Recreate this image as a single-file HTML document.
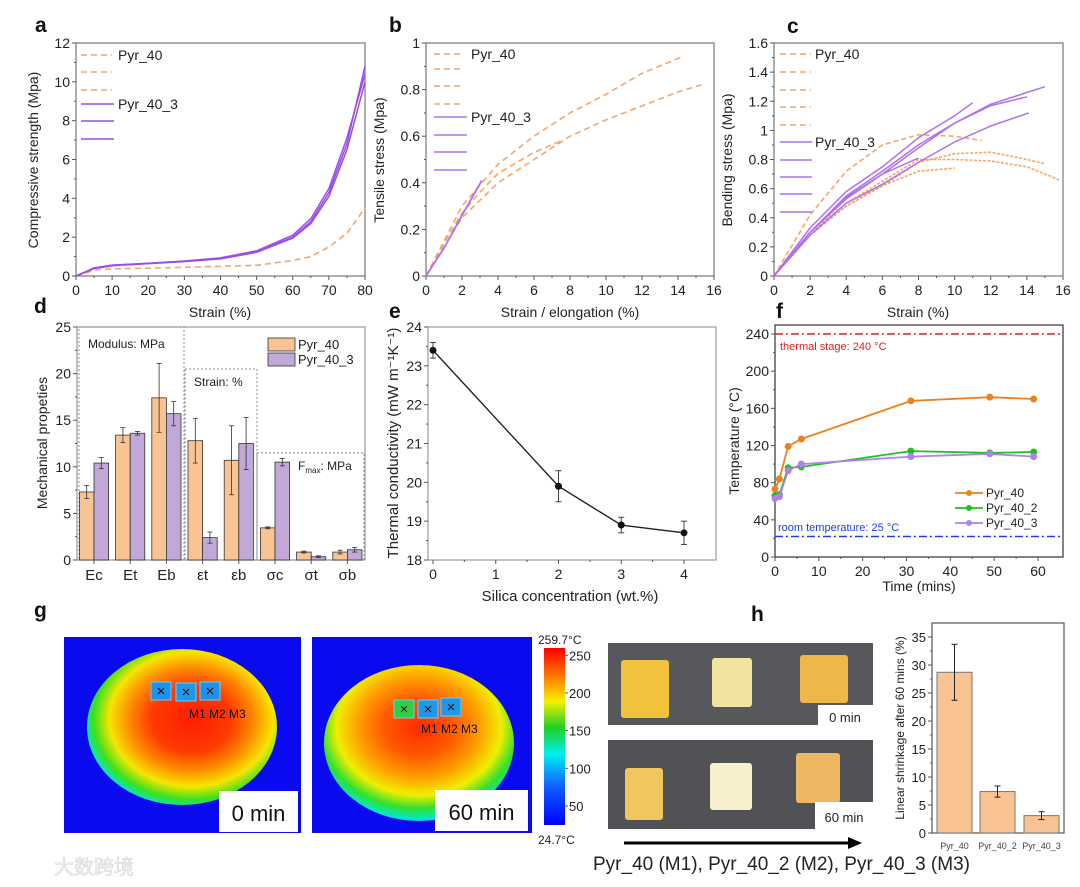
<!DOCTYPE html>
<html><head><meta charset="utf-8">
<style>
html,body{margin:0;padding:0;background:#fff;}
svg{display:block;font-family:"Liberation Sans",Arial,sans-serif;}
</style></head>
<body>
<svg id="fig" width="1080" height="887" viewBox="0 0 1080 887" xmlns="http://www.w3.org/2000/svg">
<defs>
  <radialGradient id="heat1" cx="0.55" cy="0.45" r="0.6">
    <stop offset="0" stop-color="#ff1e00"/><stop offset="0.35" stop-color="#ff3a00"/>
    <stop offset="0.55" stop-color="#ff8c00"/><stop offset="0.72" stop-color="#f5e600"/>
    <stop offset="0.86" stop-color="#3ce01e"/><stop offset="0.96" stop-color="#00e8c8"/><stop offset="1" stop-color="#10a0ff"/>
  </radialGradient>
  <radialGradient id="heat2" cx="0.5" cy="0.4" r="0.62">
    <stop offset="0" stop-color="#ff2a00"/><stop offset="0.3" stop-color="#ff5a00"/>
    <stop offset="0.52" stop-color="#ffa000"/><stop offset="0.7" stop-color="#f0ee00"/>
    <stop offset="0.84" stop-color="#30e030"/><stop offset="0.95" stop-color="#00e8d0"/><stop offset="1" stop-color="#10a8ff"/>
  </radialGradient>
  <linearGradient id="cbar" x1="0" y1="0" x2="0" y2="1">
    <stop offset="0" stop-color="#ff0000"/><stop offset="0.15" stop-color="#ff7000"/>
    <stop offset="0.3" stop-color="#f8f000"/><stop offset="0.45" stop-color="#20d020"/>
    <stop offset="0.6" stop-color="#00f0f0"/><stop offset="0.78" stop-color="#1060ff"/><stop offset="1" stop-color="#0000ff"/>
  </linearGradient>
</defs>
<g id="root"></g>
</svg>
<script>
// ---------- DATA ----------
// panel a
const aStrain = [0,5,10,20,30,40,50,60,65,70,75,80];
const aPyr40 = [0,0.3,0.37,0.4,0.45,0.5,0.55,0.8,1.0,1.5,2.2,3.5];
const aPyr40_3a = [0,0.4,0.55,0.65,0.75,0.9,1.25,2.0,2.8,4.3,6.8,10.8];
const aPyr40_3b = [0,0.42,0.56,0.66,0.77,0.93,1.3,2.1,2.95,4.5,7.1,10.4];
const aPyr40_3c = [0,0.38,0.53,0.64,0.74,0.88,1.22,1.95,2.7,4.1,6.5,10.0];
// panel b
const bX1 = [0,2,4,6,8,10,12,14.2];
const bY1 = [0,0.3,0.48,0.6,0.7,0.78,0.87,0.94];
const bX2 = [0,2,4,6,8,10,12,14,15.3];
const bY2 = [0,0.25,0.4,0.5,0.6,0.67,0.73,0.79,0.82];
const bX3 = [0,1,2,3,4,6,7.5];
const bY3 = [0,0.14,0.27,0.36,0.44,0.53,0.58];
const bXp = [0,1,2,3.1];
const bYp = [0,0.12,0.26,0.41];
// panel c
const cO1x = [0,2,4,6,8,10,11.5], cO1y = [0,0.42,0.72,0.9,0.97,0.96,0.93];
const cO2x = [0,2,4,6,8,10,12,14,15], cO2y = [0,0.3,0.48,0.62,0.78,0.84,0.85,0.8,0.77];
const cO3x = [0,2,4,6,8,10,12,14,15.8], cO3y = [0,0.3,0.5,0.65,0.8,0.8,0.79,0.75,0.66];
const cO4x = [0,2,4,6,8,10], cO4y = [0,0.28,0.48,0.62,0.72,0.74];
const cP1x = [0,2,4,6,8,10,11], cP1y = [0,0.33,0.58,0.75,0.95,1.1,1.19];
const cP2x = [0,2,4,6,8,10,12,14], cP2y = [0,0.3,0.55,0.72,0.9,1.05,1.17,1.23];
const cP3x = [0,2,4,6,8,10,12,15], cP3y = [0,0.3,0.53,0.7,0.88,1.05,1.18,1.3];
const cP4x = [0,2,4,6,8,10,12,14.1], cP4y = [0,0.28,0.5,0.63,0.78,0.92,1.03,1.12];
const cP5x = [0,2,4,6,8], cP5y = [0,0.3,0.54,0.7,0.81];
// panel d
const dCats = ["Ec","Et","Eb","\u03b5t","\u03b5b","\u03c3c","\u03c3t","\u03c3b"];
const dPyr40 = [7.3,13.4,17.4,12.8,10.7,3.45,0.85,0.85];
const dPyr40Err = [0.7,0.8,3.7,2.4,3.7,0.1,0.1,0.2];
const dPyr40_3 = [10.4,13.6,15.7,2.4,12.5,10.5,0.35,1.1];
const dPyr40_3Err = [0.6,0.2,1.3,0.6,2.8,0.4,0.1,0.25];
const dYTicks = [0,5,10,15,20,25];
// panel e
const eSilica = [0,2,3,4];
const eK = [23.4,19.9,18.9,18.7];
const eErr = [0.2,0.4,0.2,0.3];
const eXTicks = [0,1,2,3,4];
const eYTicks = [18,19,20,21,22,23,24];
// panel f
const fTime = [0,1,3,6,31,49,59];
const fPyr40 = [73,84,119,127,168,172,170];
const fPyr40_2 = [66,67,96,97,114,112,113];
const fPyr40_3 = [63,65,93,100,108,111,108];
const fStage = 240, fRoom = 22;
const fXTicks = [0,10,20,30,40,50,60];
const fYTicks = [0,40,80,120,160,200,240];
// panel h
const hCats = ["Pyr_40","Pyr_40_2","Pyr_40_3"];
const hShrink = [28.7,7.4,3.1];
const hErr = [5,1,0.7];
const hYTicks = [0,5,10,15,20,25,30,35];
// colour bar
const cbTicks = [50,100,150,200,250];

// ---------- HELPERS ----------
const NS = "http://www.w3.org/2000/svg";
const root = document.getElementById("root");
function mk(tag, attrs, parent, name, inter) {
  const el = document.createElementNS(NS, tag);
  for (const k in attrs) el.setAttribute(k, attrs[k]);
  
  
  (parent || root).appendChild(el);
  return el;
}
function txt(x, y, s, attrs, parent, name) {
  const a = Object.assign({x: x, y: y, "font-size": 14, fill: "#222"}, attrs || {});
  const t = mk("text", a, parent, name, false);
  t.textContent = s;
  return t;
}
function lin(d0, d1, r0, r1) { return v => r0 + (v - d0) / (d1 - d0) * (r1 - r0); }
function path(xs, ys, sx, sy) {
  return xs.map((v, i) => (i ? "L" : "M") + sx(v).toFixed(1) + "," + sy(ys[i]).toFixed(1)).join("");
}
function axes(g, box, sx, sy, xt, yt, xfmt, yfmt, opts) {
  opts = opts || {};
  mk("rect", {x: box.L, y: box.T, width: box.R - box.L, height: box.B - box.T, fill: "none", stroke: opts.frame || "#777", "stroke-width": 1.2}, g, "plot-frame", false);
  if (xt) xt.forEach((v, i) => {
    const x = sx(v);
    mk("line", {x1: x, x2: x, y1: box.B, y2: box.B + 4, stroke: "#555"}, g, "x-tick", false);
    txt(x, box.B + 19, xfmt ? xfmt(v) : v, {"text-anchor": "middle", "font-size": opts.fs || 14}, g, "x-tick-label");
    if (opts.xminor && i < xt.length - 1) {
      const xm = sx((v + xt[i + 1]) / 2);
      mk("line", {x1: xm, x2: xm, y1: box.B, y2: box.B + 2, stroke: "#555"}, g, "x-minor-tick", false);
    }
  });
  yt.forEach((v, i) => {
    const y = sy(v);
    mk("line", {x1: box.L - 4, x2: box.L, y1: y, y2: y, stroke: "#555"}, g, "y-tick", false);
    txt(box.L - 6, y + 5, yfmt ? yfmt(v) : v, {"text-anchor": "end", "font-size": opts.fs || 14}, g, "y-tick-label");
    if (i < yt.length - 1) {
      const ym = sy((v + yt[i + 1]) / 2);
      mk("line", {x1: box.L - 2, x2: box.L, y1: ym, y2: ym, stroke: "#555"}, g, "y-minor-tick", false);
    }
  });
}
function ytitle(g, x, y, s, fs) {
  txt(0, 0, s, {"text-anchor": "middle", "font-size": fs || 14, transform: "translate(" + x + "," + y + ") rotate(-90)"}, g, "y-axis-title");
}
function plabel(x, y, s) { txt(x, y, s, {"font-size": 21, "font-weight": "bold", fill: "#111"}, root, "panel-label-" + s); }
const OR = "#f4a66a", PU = "#9b4de8", PU2 = "#b070f0";
const num = v => (Math.round(v * 10) / 10).toString();

// ---------- PANEL A ----------
(function () {
  const g = mk("g", {}, root, "panel-a-compressive", false);
  const box = {L: 76, R: 365, T: 43, B: 276};
  const sx = lin(0, 80, box.L, box.R), sy = lin(0, 12, box.B, box.T);
  axes(g, box, sx, sy, [0,10,20,30,40,50,60,70,80], [0,2,4,6,8,10,12], null, null, {xminor: true});
  mk("path", {d: path(aStrain, aPyr40, sx, sy), fill: "none", stroke: OR, "stroke-width": 1.6, "stroke-dasharray": "6 4"}, g, "pyr40-curve", false);
  mk("path", {d: path(aStrain, aPyr40_3a, sx, sy), fill: "none", stroke: PU, "stroke-width": 1.5}, g, "pyr40-3-curve-1", false);
  mk("path", {d: path(aStrain, aPyr40_3b, sx, sy), fill: "none", stroke: PU, "stroke-width": 1.5}, g, "pyr40-3-curve-2", false);
  mk("path", {d: path(aStrain, aPyr40_3c, sx, sy), fill: "none", stroke: PU, "stroke-width": 1.5}, g, "pyr40-3-curve-3", false);
  [55, 72, 90].forEach(y => mk("line", {x1: 81, x2: 112, y1: y, y2: y, stroke: OR, "stroke-width": 1.5, "stroke-dasharray": "6 4"}, g, "legend-line-pyr40", false));
  [104, 121, 139].forEach(y => mk("line", {x1: 81, x2: 114, y1: y, y2: y, stroke: PU, "stroke-width": 1.5}, g, "legend-line-pyr40-3", false));
  txt(118, 60, "Pyr_40", {}, g, "legend-entry-pyr40");
  txt(118, 109, "Pyr_40_3", {}, g, "legend-entry-pyr40-3");
  ytitle(g, 38, 160, "Compressive strength (Mpa)");
  txt(220, 317, "Strain (%)", {"text-anchor": "middle"}, g, "x-axis-title");
})();

// ---------- PANEL B ----------
(function () {
  const g = mk("g", {}, root, "panel-b-tensile", false);
  const box = {L: 426, R: 714, T: 43, B: 276};
  const sx = lin(0, 16, box.L, box.R), sy = lin(0, 1, box.B, box.T);
  axes(g, box, sx, sy, [0,2,4,6,8,10,12,14,16], [0,0.2,0.4,0.6,0.8,1], null, num, {xminor: true});
  mk("path", {d: path(bX1, bY1, sx, sy), fill: "none", stroke: OR, "stroke-width": 1.6, "stroke-dasharray": "6 4"}, g, "pyr40-curve-1", false);
  mk("path", {d: path(bX2, bY2, sx, sy), fill: "none", stroke: OR, "stroke-width": 1.6, "stroke-dasharray": "6 4"}, g, "pyr40-curve-2", false);
  mk("path", {d: path(bX3, bY3, sx, sy), fill: "none", stroke: OR, "stroke-width": 1.6, "stroke-dasharray": "6 4"}, g, "pyr40-curve-3", false);
  mk("path", {d: path(bXp, bYp, sx, sy), fill: "none", stroke: PU2, "stroke-width": 1.8}, g, "pyr40-3-curve", false);
  [54, 69, 86, 104].forEach(y => mk("line", {x1: 434, x2: 464, y1: y, y2: y, stroke: OR, "stroke-width": 1.5, "stroke-dasharray": "6 4"}, g, "legend-line-pyr40", false));
  [117, 135, 152, 170].forEach(y => mk("line", {x1: 434, x2: 467, y1: y, y2: y, stroke: PU2, "stroke-width": 1.5}, g, "legend-line-pyr40-3", false));
  txt(471, 59, "Pyr_40", {}, g, "legend-entry-pyr40");
  txt(471, 122, "Pyr_40_3", {}, g, "legend-entry-pyr40-3");
  ytitle(g, 384, 160, "Tensile stress (Mpa)");
  txt(570, 317, "Strain / elongation (%)", {"text-anchor": "middle"}, g, "x-axis-title");
})();

// ---------- PANEL C ----------
(function () {
  const g = mk("g", {}, root, "panel-c-bending", false);
  const box = {L: 774, R: 1063, T: 43, B: 276};
  const sx = lin(0, 16, box.L, box.R), sy = lin(0, 1.6, box.B, box.T);
  axes(g, box, sx, sy, [0,2,4,6,8,10,12,14,16], [0,0.2,0.4,0.6,0.8,1,1.2,1.4,1.6], null, num, {xminor: true});
  [[cO1x,cO1y],[cO2x,cO2y],[cO3x,cO3y],[cO4x,cO4y]].forEach((s, i) =>
    mk("path", {d: path(s[0], s[1], sx, sy), fill: "none", stroke: OR, "stroke-width": 1.6, "stroke-dasharray": i ? "3 1.5" : "5 3"}, g, "pyr40-curve-" + (i + 1), false));
  [[cP1x,cP1y],[cP2x,cP2y],[cP3x,cP3y],[cP4x,cP4y],[cP5x,cP5y]].forEach((s, i) =>
    mk("path", {d: path(s[0], s[1], sx, sy), fill: "none", stroke: PU2, "stroke-width": 1.5}, g, "pyr40-3-curve-" + (i + 1), false));
  [54, 72, 90, 107, 125].forEach(y => mk("line", {x1: 780, x2: 811, y1: y, y2: y, stroke: OR, "stroke-width": 1.5, "stroke-dasharray": "6 4"}, g, "legend-line-pyr40", false));
  [142, 160, 177, 194, 212].forEach(y => mk("line", {x1: 780, x2: 812, y1: y, y2: y, stroke: PU2, "stroke-width": 1.5}, g, "legend-line-pyr40-3", false));
  txt(815, 59, "Pyr_40", {}, g, "legend-entry-pyr40");
  txt(815, 147, "Pyr_40_3", {}, g, "legend-entry-pyr40-3");
  ytitle(g, 732, 160, "Bending stress (Mpa)");
  txt(918, 317, "Strain (%)", {"text-anchor": "middle"}, g, "x-axis-title");
})();

// ---------- PANEL D ----------
(function () {
  const g = mk("g", {}, root, "panel-d-mechanical", false);
  const box = {L: 77, R: 365, T: 327, B: 560};
  const sy = lin(0, 25, box.B, box.T);
  const gx = i => 94 + i * 36.2;
  axes(g, box, null, sy, null, dYTicks, null, null, {frame: "#999"});
  mk("rect", {x: 79, y: sy(25), width: 105, height: box.B - sy(25), fill: "none", stroke: "#888", "stroke-dasharray": "2 2"}, g, "modulus-group-box", false);
  mk("rect", {x: 185, y: sy(20.5), width: 72, height: box.B - sy(20.5), fill: "none", stroke: "#888", "stroke-dasharray": "2 2"}, g, "strain-group-box", false);
  mk("rect", {x: 257, y: sy(11.5), width: 107, height: box.B - sy(11.5), fill: "none", stroke: "#888", "stroke-dasharray": "2 2"}, g, "fmax-group-box", false);
  txt(88, 348, "Modulus: MPa", {"font-size": 12}, g, "modulus-label");
  txt(194, 386, "Strain: %", {"font-size": 12}, g, "strain-label");
  const fl = txt(298, 470, "F", {"font-size": 12}, g, "fmax-label");
  const ts = document.createElementNS(NS, "tspan"); ts.setAttribute("font-size", 8); ts.setAttribute("dy", 3); ts.textContent = "max"; fl.appendChild(ts);
  const ts2 = document.createElementNS(NS, "tspan"); ts2.setAttribute("dy", -3); ts2.textContent = ": MPa"; fl.appendChild(ts2);
  dCats.forEach((c, i) => {
    const bw = 14.6;
    const x1 = gx(i) - bw, x2 = gx(i);
    mk("rect", {x: x1, y: sy(dPyr40[i]), width: bw, height: box.B - sy(dPyr40[i]), fill: "#f9c394", stroke: "#333", "stroke-width": 0.8}, g, "bar-pyr40-" + c, false);
    mk("rect", {x: x2, y: sy(dPyr40_3[i]), width: bw, height: box.B - sy(dPyr40_3[i]), fill: "#c0a8d8", stroke: "#333", "stroke-width": 0.8}, g, "bar-pyr40-3-" + c, false);
    [[x1 + bw / 2, dPyr40[i], dPyr40Err[i]], [x2 + bw / 2, dPyr40_3[i], dPyr40_3Err[i]]].forEach(e => {
      mk("line", {x1: e[0], x2: e[0], y1: sy(e[1] - e[2]), y2: sy(e[1] + e[2]), stroke: "#333", "stroke-width": 0.8}, g, "error-bar", false);
      mk("line", {x1: e[0] - 2.5, x2: e[0] + 2.5, y1: sy(e[1] + e[2]), y2: sy(e[1] + e[2]), stroke: "#333", "stroke-width": 0.8}, g, "error-cap", false);
      mk("line", {x1: e[0] - 2.5, x2: e[0] + 2.5, y1: sy(e[1] - e[2]), y2: sy(e[1] - e[2]), stroke: "#333", "stroke-width": 0.8}, g, "error-cap", false);
    });
    mk("line", {x1: gx(i), x2: gx(i), y1: box.B, y2: box.B + 4, stroke: "#555"}, g, "x-tick", false);
    txt(gx(i), box.B + 20, c, {"text-anchor": "middle", "font-size": 15}, g, "x-tick-label");
  });
  mk("rect", {x: 268, y: 338, width: 27, height: 13, fill: "#f9c394", stroke: "#333", "stroke-width": 0.8}, g, "legend-swatch-pyr40", false);
  mk("rect", {x: 268, y: 353, width: 27, height: 13, fill: "#c0a8d8", stroke: "#333", "stroke-width": 0.8}, g, "legend-swatch-pyr40-3", false);
  txt(298, 349, "Pyr_40", {"font-size": 13}, g, "legend-entry-pyr40");
  txt(298, 364, "Pyr_40_3", {"font-size": 13}, g, "legend-entry-pyr40-3");
  ytitle(g, 47, 443, "Mechanical propeties");
})();

// ---------- PANEL E ----------
(function () {
  const g = mk("g", {}, root, "panel-e-conductivity", false);
  const box = {L: 428, R: 716, T: 327, B: 560};
  const sx = lin(0, 4, 433, 684), sy = lin(18, 24, box.B, box.T);
  axes(g, box, sx, sy, eXTicks, eYTicks, null, null, {xminor: true, frame: "#999"});
  mk("path", {d: path(eSilica, eK, sx, sy), fill: "none", stroke: "#222", "stroke-width": 1.4}, g, "conductivity-line", false);
  eSilica.forEach((v, i) => {
    const x = sx(v);
    mk("line", {x1: x, x2: x, y1: sy(eK[i] - eErr[i]), y2: sy(eK[i] + eErr[i]), stroke: "#444"}, g, "error-bar", false);
    mk("line", {x1: x - 3, x2: x + 3, y1: sy(eK[i] + eErr[i]), y2: sy(eK[i] + eErr[i]), stroke: "#444"}, g, "error-cap", false);
    mk("line", {x1: x - 3, x2: x + 3, y1: sy(eK[i] - eErr[i]), y2: sy(eK[i] - eErr[i]), stroke: "#444"}, g, "error-cap", false);
    mk("circle", {cx: x, cy: sy(eK[i]), r: 3.5, fill: "#111"}, g, "data-point", false);
  });
  ytitle(g, 398, 443, "Thermal conductivity (mW m\u207b\u00b9K\u207b\u00b9)", 15);
  txt(570, 601, "Silica concentration (wt.%)", {"text-anchor": "middle", "font-size": 15}, g, "x-axis-title");
})();

// ---------- PANEL F ----------
(function () {
  const g = mk("g", {}, root, "panel-f-temperature", false);
  const box = {L: 775, R: 1063, T: 325, B: 557};
  const sx = lin(0, 60, 775, 1038), sy = lin(0, 240, 557, 334);
  axes(g, box, sx, sy, fXTicks, fYTicks, null, null, {xminor: true, frame: "#333"});
  mk("line", {x1: box.L, x2: box.R, y1: sy(fStage), y2: sy(fStage), stroke: "#e02020", "stroke-width": 1.5, "stroke-dasharray": "8 3 2 3"}, g, "thermal-stage-line", false);
  mk("line", {x1: box.L, x2: box.R, y1: sy(fRoom), y2: sy(fRoom), stroke: "#2040e0", "stroke-width": 1.5, "stroke-dasharray": "8 3 2 3"}, g, "room-temp-line", false);
  txt(780, 350, "thermal stage: 240 \u00b0C", {"font-size": 11, fill: "#e02020"}, g, "thermal-stage-label");
  txt(778, 531, "room temperature: 25 \u00b0C", {"font-size": 11, fill: "#2040e0"}, g, "room-temp-label");
  [[fPyr40, "#ee8020", "pyr40"], [fPyr40_2, "#20c020", "pyr40-2"], [fPyr40_3, "#b080f0", "pyr40-3"]].forEach(s => {
    mk("path", {d: path(fTime, s[0], sx, sy), fill: "none", stroke: s[1], "stroke-width": 1.8}, g, s[2] + "-line", false);
    fTime.forEach((t, i) => mk("circle", {cx: sx(t), cy: sy(s[0][i]), r: 3.5, fill: s[1]}, g, s[2] + "-point", false));
  });
  [["Pyr_40", "#ee8020", 493], ["Pyr_40_2", "#20c020", 508], ["Pyr_40_3", "#b080f0", 523]].forEach(l => {
    mk("line", {x1: 955, x2: 983, y1: l[2], y2: l[2], stroke: l[1], "stroke-width": 1.8}, g, "legend-line", false);
    mk("circle", {cx: 969, cy: l[2], r: 3, fill: l[1]}, g, "legend-marker", false);
    txt(986, l[2] + 4, l[0], {"font-size": 12}, g, "legend-entry-" + l[0].toLowerCase());
  });
  ytitle(g, 739, 441, "Temperature (\u00b0C)");
  txt(919, 591, "Time (mins)", {"text-anchor": "middle"}, g, "x-axis-title");
})();

// ---------- PANEL G (thermal images) ----------
(function () {
  const g = mk("g", {}, root, "panel-g-thermal", false);
  const imgs = [{x: 64, w: 237, cx: 182, cy: 727, fill: "url(#heat1)", sq: [[151, 682, "#2090e8"], [176, 683, "#2098e8"], [200, 682, "#2090e8"]], lab: [189, 718], box: [219, 791, 79, "0 min"]},
                {x: 312, w: 220, cx: 419, cy: 743, fill: "url(#heat2)", sq: [[394, 700, "#30d040"], [418, 700, "#2098e8"], [441, 698, "#2098e8"]], lab: [421, 733], box: [435, 790, 93, "60 min"]}];
  imgs.forEach((im, k) => {
    mk("rect", {x: im.x, y: 637, width: im.w, height: 196, fill: "#0a0af0"}, g, "thermal-image-bg", false);
    mk("ellipse", {cx: im.cx, cy: im.cy, rx: 95, ry: 78, fill: im.fill}, g, "thermal-sample-plate", false);
    im.sq.forEach((s, j) => {
      mk("rect", {x: s[0], y: s[1], width: 20, height: 18, fill: s[2], stroke: "#60d0ff", "stroke-width": 1}, g, "sample-m" + (j + 1), false);
      txt(s[0] + 10, s[1] + 14, "\u00d7", {"font-size": 15, "text-anchor": "middle", fill: "#111"}, g, "marker-x");
    });
    txt(im.lab[0], im.lab[1], "M1 M2 M3", {"font-size": 12, fill: "#111"}, g, "marker-labels");
    mk("rect", {x: im.box[0], y: im.box[1], width: im.box[2], height: 41, fill: "#fff"}, g, "time-label-box", false);
    txt(im.box[0] + im.box[2] / 2, im.box[1] + 30, im.box[3], {"font-size": 22, "text-anchor": "middle", fill: "#111"}, g, "time-label");
  });
  mk("rect", {x: 544, y: 648, width: 21, height: 177, fill: "url(#cbar)"}, g, "colour-bar", false);
  txt(538, 644, "259.7\u00b0C", {"font-size": 12}, g, "colour-bar-max");
  txt(538, 844, "24.7\u00b0C", {"font-size": 12}, g, "colour-bar-min");
  const cy = lin(24.7, 259.7, 825, 648);
  cbTicks.forEach(v => {
    mk("line", {x1: 565, x2: 568, y1: cy(v), y2: cy(v), stroke: "#555"}, g, "colour-bar-tick", false);
    txt(569, cy(v) + 5, v, {"font-size": 13}, g, "colour-bar-tick-label");
  });
})();

// ---------- PANEL H (photos + shrinkage) ----------
(function () {
  const g = mk("g", {}, root, "panel-h-shrinkage", false);
  mk("rect", {x: 608, y: 643, width: 265, height: 82, fill: "#57585c"}, g, "photo-0min", false);
  mk("rect", {x: 608, y: 740, width: 265, height: 89, fill: "#505256"}, g, "photo-60min", false);
  [[621, 660, 48, 58, "#f3c23c"], [712, 658, 40, 49, "#f2e4a0"], [800, 655, 48, 48, "#efb64a"],
   [625, 768, 38, 52, "#f0c65e"], [710, 763, 42, 47, "#f8f0cc"], [796, 753, 44, 50, "#eeb862"]].forEach((b, i) =>
    mk("rect", {x: b[0], y: b[1], width: b[2], height: b[3], rx: 3, fill: b[4]}, g, "sample-block-" + (i + 1), false));
  mk("rect", {x: 818, y: 705, width: 55, height: 21, fill: "#fff"}, g, "label-box-0min", false);
  txt(845, 722, "0 min", {"font-size": 13, "text-anchor": "middle"}, g, "label-0min");
  mk("rect", {x: 815, y: 802, width: 58, height: 27, fill: "#fff"}, g, "label-box-60min", false);
  txt(844, 822, "60 min", {"font-size": 13, "text-anchor": "middle"}, g, "label-60min");
  mk("line", {x1: 624, x2: 850, y1: 843, y2: 843, stroke: "#000", "stroke-width": 3}, g, "arrow-shaft", false);
  mk("polygon", {points: "848,837 862,843 848,849", fill: "#000"}, g, "arrow-head", false);
  txt(593, 870, "Pyr_40 (M1), Pyr_40_2 (M2), Pyr_40_3 (M3)", {"font-size": 19, fill: "#222"}, g, "sample-caption");
  const box = {L: 932, R: 1064, T: 623, B: 833};
  const sy = lin(0, 35, 833, 637);
  axes(g, box, null, sy, null, hYTicks, null, null, {frame: "#555", fs: 13});
  const bx = [937, 980, 1024];
  hCats.forEach((c, i) => {
    mk("rect", {x: bx[i], y: sy(hShrink[i]), width: 35, height: box.B - sy(hShrink[i]), fill: "#f9c394", stroke: "#777", "stroke-width": 1}, g, "bar-" + c.toLowerCase(), false);
    const x = bx[i] + 17.5;
    mk("line", {x1: x, x2: x, y1: sy(hShrink[i] - hErr[i]), y2: sy(hShrink[i] + hErr[i]), stroke: "#222"}, g, "error-bar", false);
    mk("line", {x1: x - 3, x2: x + 3, y1: sy(hShrink[i] + hErr[i]), y2: sy(hShrink[i] + hErr[i]), stroke: "#222"}, g, "error-cap", false);
    mk("line", {x1: x - 3, x2: x + 3, y1: sy(hShrink[i] - hErr[i]), y2: sy(hShrink[i] - hErr[i]), stroke: "#222"}, g, "error-cap", false);
    txt(x, 849, c, {"font-size": 9, "text-anchor": "middle", fill: "#444"}, g, "x-tick-label");
  });
  ytitle(g, 904, 728, "Linear shrinkage after 60 mins (%)", 12);
})();

// panel letters & watermark
plabel(35, 32, "a"); plabel(389, 32, "b"); plabel(787, 33, "c");
plabel(34, 313, "d"); plabel(389, 318, "e"); plabel(776, 318, "f");
plabel(34, 617, "g"); plabel(751, 621, "h");
txt(54, 874, "\u5927\u6570\u8de8\u5883", {"font-size": 20, fill: "#f0f0f0", stroke: "#d8d8d8", "stroke-width": 0.6, "font-family": "\"Liberation Sans\", \"Noto Sans CJK SC\", sans-serif"}, root, "watermark");
</script>
</body></html>
